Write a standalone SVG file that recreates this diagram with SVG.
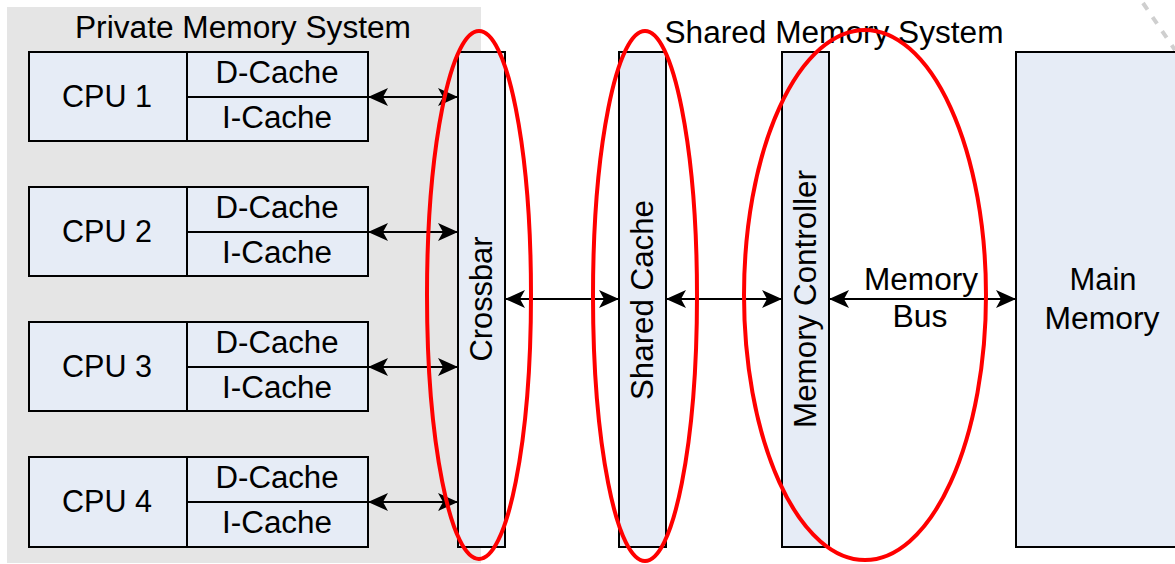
<svg xmlns="http://www.w3.org/2000/svg" width="1175" height="564" viewBox="0 0 1175 564">
<defs>
<style>
.box{fill:#E6ECF6;stroke:#000;stroke-width:2}
.t{font-family:"Liberation Sans",Arial,sans-serif;font-size:31px;fill:#000;text-anchor:middle}
.conn{stroke:#000;stroke-width:2;fill:none;marker-start:url(#ah);marker-end:url(#ah)}
.ring{fill:none;stroke:#FF0000;stroke-width:4}
</style>
<marker id="ah" viewBox="0 0 20 20" refX="20" refY="10" markerWidth="20" markerHeight="20" markerUnits="userSpaceOnUse" orient="auto-start-reverse">
<path d="M0,1 L20,10 L0,19 L5,10 Z" fill="#000"/>
</marker>
</defs>
<rect width="1175" height="564" fill="#fff"/>
<g id="private-memory-system">
<rect x="7" y="7" width="474" height="556" fill="#E5E5E5"/>
<text class="t" x="243" y="38" textLength="336" lengthAdjust="spacingAndGlyphs">Private Memory System</text>
</g>
<g id="shared-memory-label">
<text class="t" x="834" y="43" textLength="339" lengthAdjust="spacingAndGlyphs">Shared Memory System</text>
</g>
<line x1="1143" y1="3" x2="1175" y2="50" stroke="#CFCFCF" stroke-width="4" stroke-dasharray="8,9"/>
<g id="cpu1">
<rect class="box" x="29" y="52" width="158" height="89"/>
<rect class="box" x="187" y="52" width="181" height="45"/>
<rect class="box" x="187" y="97" width="181" height="44"/>
<text class="t" x="107" y="107" textLength="90" lengthAdjust="spacingAndGlyphs">CPU 1</text>
<text class="t" x="277" y="83" textLength="123" lengthAdjust="spacingAndGlyphs">D-Cache</text>
<text class="t" x="277" y="128" textLength="110" lengthAdjust="spacingAndGlyphs">I-Cache</text>
</g>
<g id="cpu2">
<rect class="box" x="29" y="187" width="158" height="89"/>
<rect class="box" x="187" y="187" width="181" height="45"/>
<rect class="box" x="187" y="232" width="181" height="44"/>
<text class="t" x="107" y="242" textLength="90" lengthAdjust="spacingAndGlyphs">CPU 2</text>
<text class="t" x="277" y="218" textLength="123" lengthAdjust="spacingAndGlyphs">D-Cache</text>
<text class="t" x="277" y="263" textLength="110" lengthAdjust="spacingAndGlyphs">I-Cache</text>
</g>
<g id="cpu3">
<rect class="box" x="29" y="322" width="158" height="89"/>
<rect class="box" x="187" y="322" width="181" height="45"/>
<rect class="box" x="187" y="367" width="181" height="44"/>
<text class="t" x="107" y="377" textLength="90" lengthAdjust="spacingAndGlyphs">CPU 3</text>
<text class="t" x="277" y="353" textLength="123" lengthAdjust="spacingAndGlyphs">D-Cache</text>
<text class="t" x="277" y="398" textLength="110" lengthAdjust="spacingAndGlyphs">I-Cache</text>
</g>
<g id="cpu4">
<rect class="box" x="29" y="457" width="158" height="90"/>
<rect class="box" x="187" y="457" width="181" height="45"/>
<rect class="box" x="187" y="502" width="181" height="45"/>
<text class="t" x="107" y="512" textLength="90" lengthAdjust="spacingAndGlyphs">CPU 4</text>
<text class="t" x="277" y="488" textLength="123" lengthAdjust="spacingAndGlyphs">D-Cache</text>
<text class="t" x="277" y="533" textLength="110" lengthAdjust="spacingAndGlyphs">I-Cache</text>
</g>
<g id="crossbar">
<rect class="box" x="458" y="52" width="47" height="495"/>
<text class="t" transform="translate(492,299) rotate(-90)" x="0" y="0" textLength="125" lengthAdjust="spacingAndGlyphs">Crossbar</text>
</g>
<g id="shared-cache">
<rect class="box" x="619" y="52" width="47" height="495"/>
<text class="t" transform="translate(653,300) rotate(-90)" x="0" y="0" textLength="200" lengthAdjust="spacingAndGlyphs">Shared Cache</text>
</g>
<g id="memory-controller">
<rect class="box" x="782" y="52" width="47" height="495"/>
<text class="t" transform="translate(816,299) rotate(-90)" x="0" y="0" textLength="258" lengthAdjust="spacingAndGlyphs">Memory Controller</text>
</g>
<g id="main-memory">
<rect class="box" x="1016" y="52" width="180" height="495"/>
<text class="t" x="1103" y="290" textLength="67" lengthAdjust="spacingAndGlyphs">Main</text>
<text class="t" x="1102" y="329" textLength="115" lengthAdjust="spacingAndGlyphs">Memory</text>
</g>
<g id="connectors">
<line class="conn" x1="368" y1="97" x2="458" y2="97"/>
<line class="conn" x1="368" y1="232" x2="458" y2="232"/>
<line class="conn" x1="368" y1="367" x2="458" y2="367"/>
<line class="conn" x1="368" y1="502" x2="458" y2="502"/>
<line class="conn" x1="505" y1="299" x2="619" y2="299"/>
<line class="conn" x1="666" y1="299" x2="782" y2="299"/>
<line class="conn" x1="829" y1="299" x2="1016" y2="299"/>
<text class="t" x="921" y="290" textLength="114" lengthAdjust="spacingAndGlyphs">Memory</text>
<text class="t" x="920" y="327" textLength="55" lengthAdjust="spacingAndGlyphs">Bus</text>
</g>
<g id="highlights">
<ellipse class="ring" cx="479" cy="295" rx="52" ry="264"/>
<ellipse class="ring" cx="645" cy="296" rx="52" ry="265"/>
<ellipse class="ring" cx="865" cy="295" rx="121" ry="265"/>
</g>
</svg>
